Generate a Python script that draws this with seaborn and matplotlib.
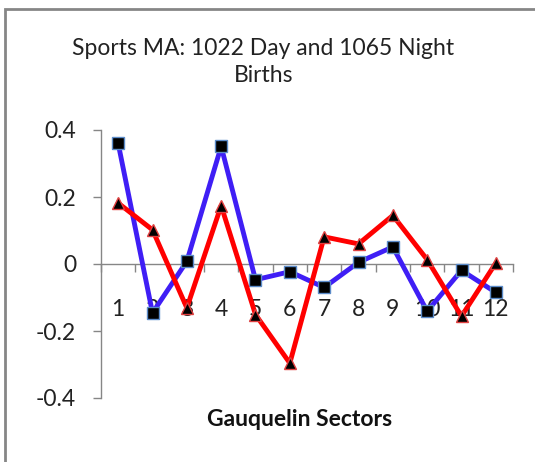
"""Sports MA day/night births by Gauquelin sector."""

import matplotlib.pyplot as plt
import numpy as np
import pandas as pd
import seaborn as sns
from matplotlib.patches import Rectangle

sectors = list(range(1, 13))
day_values = [0.36, -0.146, 0.008, 0.351, -0.047, -0.023, -0.07, 0.005, 0.051, -0.141, -0.019, -0.085]
night_values = [0.182, 0.102, -0.131, 0.174, -0.151, -0.296, 0.081, 0.06, 0.145, 0.013, -0.156, 0.003]
y_ticks = [-0.4, -0.2, 0.0, 0.2, 0.4]
y_tick_labels = ["-0.4", "-0.2", "0", "0.2", "0.4"]

title = "Sports MA: 1022 Day and 1065 Night\nBirths"
x_label = "Gauquelin Sectors"

GRAY = "#868686"


def main() -> None:
    sns.set_theme(style="white")
    plt.rcParams["font.family"] = ["Lato", "DejaVu Sans"]

    fig = plt.figure(figsize=(5.35, 4.62), dpi=100)
    ax = fig.add_axes([101 / 535, 1 - 398 / 462, 412 / 535, 268 / 462])

    day = pd.DataFrame({"sector": sectors, "value": day_values})
    night = pd.DataFrame({"sector": sectors, "value": night_values})

    sns.lineplot(
        data=day, x="sector", y="value", ax=ax, color="#3F1EF5", linewidth=3.5,
        marker="s", markersize=8, markerfacecolor="black",
        markeredgecolor="#5B8BC9", markeredgewidth=1, zorder=3, clip_on=False,
    )
    sns.lineplot(
        data=night, x="sector", y="value", ax=ax, color="#FF0000", linewidth=3.5,
        marker="^", markersize=8, markerfacecolor="black",
        markeredgecolor="#E04040", markeredgewidth=1, zorder=4, clip_on=False,
    )

    ax.set_xlim(0.5, 12.5)
    ax.set_ylim(-0.4, 0.4)
    ax.set_xlabel("")
    ax.set_ylabel("")

    for side in ["top", "right"]:
        ax.spines[side].set_visible(False)
    ax.spines["bottom"].set_position(("data", 0))
    ax.spines["bottom"].set_color(GRAY)
    ax.spines["left"].set_color(GRAY)
    ax.spines["bottom"].set_linewidth(1)
    ax.spines["left"].set_linewidth(1)

    ax.set_yticks(y_ticks)
    ax.set_yticklabels(y_tick_labels)
    ax.tick_params(axis="y", which="major", direction="out", length=6, width=1,
                   color=GRAY, pad=12, labelsize=16.5, labelcolor="#222222", left=True)

    ax.set_xticks(sectors)
    ax.set_xticklabels([str(s) for s in sectors])
    ax.set_xticks(np.arange(0.5, 13, 1), minor=True)
    ax.tick_params(axis="x", which="major", length=0, pad=25, labelsize=16.5,
                   labelcolor="#222222")
    ax.tick_params(axis="x", which="minor", direction="out", length=6, width=1,
                   color=GRAY, bottom=True)

    fig.text(0.492, 1 - 62 / 462, title, ha="center", va="center", fontsize=16.5,
             color="#222222", linespacing=1.4)
    fig.text(300 / 535, 1 - 420 / 462, x_label, ha="center", va="center",
             fontsize=16.5, fontweight="bold", color="#111111")

    fig.patches.append(
        Rectangle((5 / 535, -0.1), 1.2, 1.1 - 9 / 462, transform=fig.transFigure,
                  fill=False, edgecolor=GRAY, linewidth=2)
    )

    fig.savefig("out.png", dpi=100)
    plt.close(fig)


if __name__ == "__main__":
    main()
